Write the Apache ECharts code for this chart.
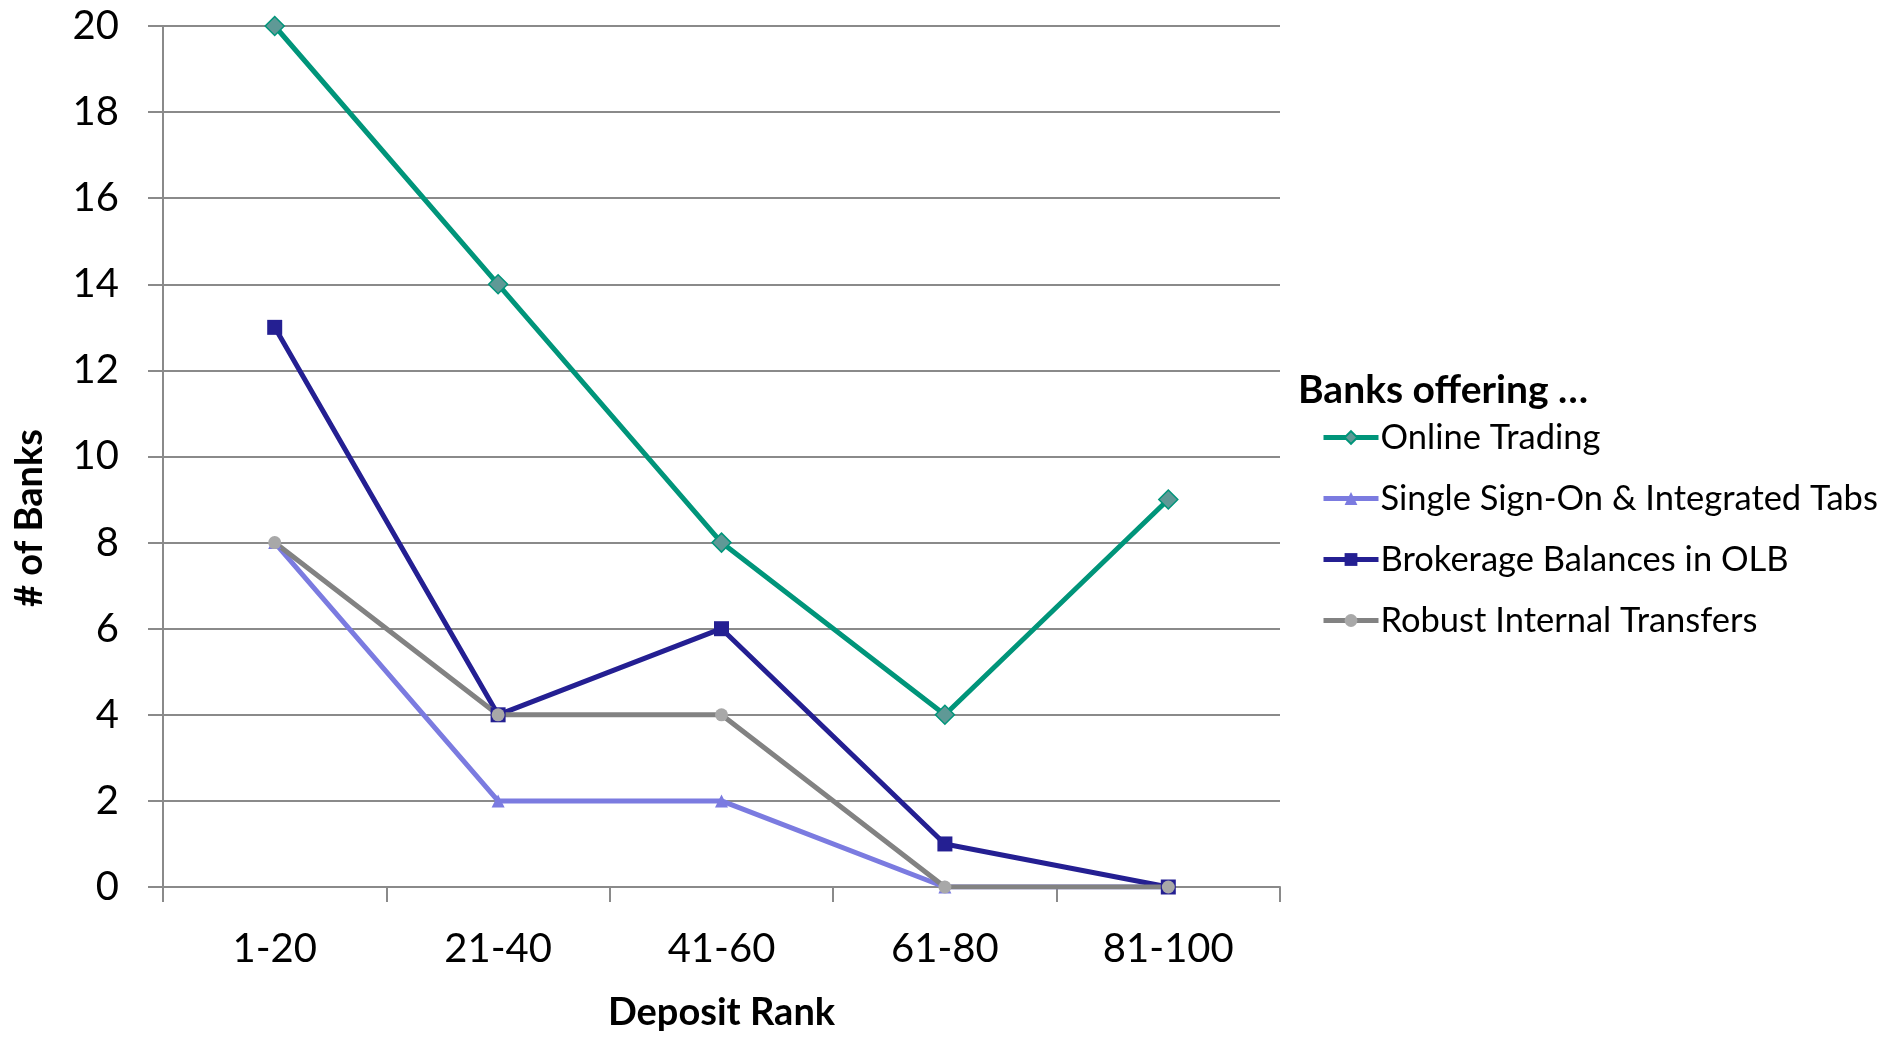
<!DOCTYPE html>
<html>
<head>
<meta charset="utf-8">
<script src="https://cdn.jsdelivr.net/npm/echarts@6/dist/echarts.min.js"></script>
<style>
  html, body { margin: 0; padding: 0; background: #fff; }
  #chart { width: 1880px; height: 1037px; }
</style>
</head>
<body>
<div id="chart"></div>
<script>
// Deposit rank buckets and the number of banks offering each feature
const categories = ['1-20', '21-40', '41-60', '61-80', '81-100'];
const onlineTrading = [20, 14, 8, 4, 9];
const singleSignOn = [8, 2, 2, 0, 0];
const brokerageBalances = [13, 4, 6, 1, 0];
const internalTransfers = [8, 4, 4, 0, 0];
const yTicks = { min: 0, max: 20, interval: 2 };

const FONT = 'Lato, "Noto Sans", sans-serif';
const GRID_COLOR = '#8a8a8a';

const chart = echarts.init(document.getElementById('chart'), null, { renderer: 'canvas' });

function lineSeries(name, data, lineColor, symbol, symbolSize, fill, border) {
  return {
    name: name,
    type: 'line',
    data: data,
    symbol: symbol,
    symbolSize: symbolSize,
    showAllSymbol: true,
    animation: false,
    lineStyle: { color: lineColor, width: 5 },
    itemStyle: { color: fill, borderColor: border || fill, borderWidth: border ? 1.5 : 0 }
  };
}

chart.setOption({
  backgroundColor: '#ffffff',
  animation: false,
  grid: { left: 163, top: 26, right: 600, bottom: 147, containLabel: false },
  legend: {
    orient: 'vertical',
    left: 1316,
    top: 415,
    itemWidth: 55,
    itemHeight: 16,
    itemGap: 26,
    lineStyle: { width: 5 },
    textStyle: { fontFamily: FONT, fontSize: 34.5, color: '#000', lineHeight: 32, padding: [0, 0, 0, -3] },
    data: ['Online Trading', 'Single Sign-On & Integrated Tabs', 'Brokerage Balances in OLB', 'Robust Internal Transfers']
  },
  graphic: [
    {
      type: 'text',
      x: 1298,
      y: 390,
      style: { text: 'Banks offering …', font: 'bold 39px ' + FONT, fill: '#000', verticalAlign: 'middle' }
    },
    {
      type: 'text',
      x: 30,
      y: 518,
      rotation: Math.PI / 2,
      style: { text: '# of Banks', font: 'bold 38px ' + FONT, fill: '#000', align: 'center', verticalAlign: 'middle' }
    }
  ],
  xAxis: {
    type: 'category',
    data: categories,
    boundaryGap: true,
    name: 'Deposit Rank',
    nameLocation: 'middle',
    nameGap: 126,
    nameTextStyle: { fontFamily: FONT, fontWeight: 'bold', fontSize: 38, color: '#000', verticalAlign: 'middle' },
    axisLine: { show: true, lineStyle: { color: GRID_COLOR, width: 2 } },
    axisTick: { show: true, length: 15, lineStyle: { color: GRID_COLOR, width: 2 } },
    axisLabel: { fontFamily: FONT, fontSize: 40, color: '#000', margin: 42 },
    splitLine: { show: false }
  },
  yAxis: {
    type: 'value',
    min: yTicks.min,
    max: yTicks.max,
    interval: yTicks.interval,
    axisLine: { show: true, lineStyle: { color: GRID_COLOR, width: 2 } },
    axisTick: { show: true, length: 15, lineStyle: { color: GRID_COLOR, width: 2 } },
    axisLabel: { fontFamily: FONT, fontSize: 40, color: '#000', margin: 44 },
    splitLine: { show: true, lineStyle: { color: GRID_COLOR, width: 2 } }
  },
  series: [
    lineSeries('Online Trading', onlineTrading, '#00957a', 'diamond', 19, '#5f9996', '#00957a'),
    lineSeries('Single Sign-On & Integrated Tabs', singleSignOn, '#7b7be0', 'triangle', 13, '#7b7be0', null),
    lineSeries('Brokerage Balances in OLB', brokerageBalances, '#241f92', 'rect', 15, '#241f92', null),
    lineSeries('Robust Internal Transfers', internalTransfers, '#828282', 'circle', 13, '#a8a8a8', null)
  ]
});
</script>
</body>
</html>
